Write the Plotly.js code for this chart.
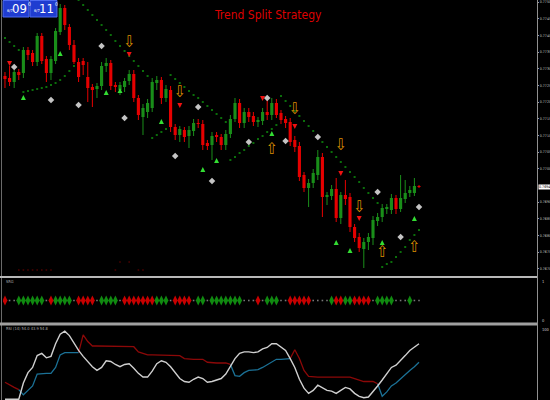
<!DOCTYPE html>
<html><head><meta charset="utf-8">
<script src="https://cdn.plot.ly/plotly-3.0.1.min.js"></script>
<style>html,body{margin:0;padding:0;background:#000;}#chart{width:550px;height:400px;}</style>
</head><body><div id="chart"></div>
<script>
// ---- price candles (one per bar index 0..90) ----
const openP=[.77278,.77272,.77260,.77290,.77287,.77356,.77347,.77320,.77398,.77329,.77287,.77323,.77410,.77482,.77425,.77371,.77320,.77323,.77275,.77245,.77239,.77248,.77308,.77317,.77251,.77236,.77245,.77263,.77284,.77212,.77155,.77170,.77182,.77257,.77266,.77212,.77236,.77125,.77101,.77116,.77098,.77113,.77137,.77134,.77077,.77071,.77101,.77095,.77071,.77104,.77149,.77197,.77137,.77170,.77158,.77140,.77143,.77170,.77161,.77197,.77167,.77149,.77140,.77086,.77068,.76981,.76942,.76957,.76981,.77035,.76915,.76918,.76939,.76852,.76921,.76915,.76825,.76795,.76759,.76780,.76792,.76843,.76855,.76879,.76876,.76912,.76879,.76909,.76927,.76927,.76948];
const highP=[.77290,.77308,.77296,.77299,.77365,.77365,.77356,.77407,.77407,.77338,.77338,.77422,.77494,.77491,.77434,.77386,.77332,.77332,.77320,.77254,.77257,.77320,.77332,.77326,.77260,.77260,.77272,.77296,.77296,.77221,.77194,.77209,.77272,.77278,.77275,.77251,.77248,.77134,.77128,.77125,.77128,.77149,.77149,.77146,.77086,.77110,.77110,.77104,.77116,.77161,.77212,.77209,.77182,.77182,.77170,.77155,.77182,.77206,.77212,.77209,.77176,.77158,.77152,.77098,.77080,.76990,.76969,.76999,.77056,.77047,.76930,.76951,.76972,.76930,.76966,.76927,.76834,.76807,.76792,.76807,.76858,.76867,.76894,.76894,.76924,.76921,.76981,.76966,.76948,.76972,.76951];
const lowP=[.77242,.77248,.77242,.77266,.77272,.77326,.77308,.77308,.77314,.77260,.77266,.77314,.77401,.77416,.77356,.77314,.77260,.77281,.77200,.77185,.77212,.77236,.77290,.77236,.77230,.77221,.77230,.77251,.77200,.77146,.77101,.77152,.77170,.77236,.77194,.77200,.77110,.77086,.77080,.77080,.77062,.77098,.77122,.77056,.77056,.77026,.77080,.77056,.77056,.77092,.77140,.77122,.77122,.77140,.77128,.77125,.77131,.77146,.77146,.77152,.77134,.77122,.77068,.77050,.76963,.76930,.76885,.76942,.76966,.76855,.76891,.76906,.76840,.76834,.76891,.76810,.76780,.76750,.76702,.76756,.76771,.76828,.76840,.76864,.76864,.76864,.76870,.76897,.76915,.76918,.76942];
const closeP=[.77269,.77260,.77290,.77281,.77356,.77341,.77320,.77398,.77323,.77287,.77329,.77413,.77482,.77431,.77371,.77320,.77275,.77311,.77242,.77236,.77248,.77308,.77317,.77248,.77245,.77251,.77263,.77284,.77212,.77161,.77182,.77197,.77260,.77266,.77212,.77239,.77125,.77101,.77119,.77095,.77116,.77137,.77134,.77071,.77068,.77098,.77095,.77071,.77104,.77149,.77197,.77137,.77170,.77155,.77140,.77146,.77170,.77161,.77197,.77161,.77146,.77137,.77080,.77065,.76975,.76942,.76957,.76987,.77035,.76915,.76921,.76939,.76852,.76921,.76909,.76825,.76792,.76762,.76780,.76795,.76846,.76855,.76882,.76885,.76912,.76879,.76912,.76927,.76936,.76948,.76945];

// ---- price axis tick labels ----
const priceTicks=[0.7750,0.7745,0.7740,0.7735,0.7730,0.7725,0.7720,0.7715,0.7710,0.7705,0.7700,0.7690,0.7685,0.7680,0.7675,0.7670];

// ---- trailing stop dots ----
const sarP=[.77392,.77380,.77368,.77356,
 .77230,.77233,.77236,.77239,.77242,.77245,.77251,.77257,.77266,.77278,.77293,.77308,
 .77506,.77491,.77476,.77461,.77446,.77431,.77416,.77401,.77383,.77368,.77353,.77338,.77323,.77308,.77293,.77278,
 .77092,.77101,.77110,.77119,
 .77281,.77269,.77257,.77245,.77233,.77221,.77212,.77200,.77188,.77176,.77164,.77152,.77140,
 .77026,.77035,.77047,.77056,.77068,.77077,.77089,.77098,.77110,.77119,.77131,
 .77218,.77203,.77188,.77173,.77158,.77143,.77128,.77113,.77095,.77080,.77065,.77050,.77035,.77020,.77005,.76990,.76975,.76960,.76942,.76927,.76912,.76897,
 .76705,.76714,.76720,.76735,.76750,.76765,.76786,.76801,.76816];

// ---- signal markers ----
const whiteIdx=[2,10,16,21,26,37,42,45,53,57,61,68,81,86,90];
const whiteP=[.77305,.77206,.77191,.77368,.77152,.77038,.77185,.76963,.77080,.77212,.77083,.77095,.76930,.76795,.76885];
const greenArrIdx=[4,12,22,25,34,43,46,58,72,75,82,89];
const greenArrP=[.77221,.77353,.77236,.77242,.77149,.77005,.77032,.77113,.76786,.76762,.76786,.76858];
const redArrIdx=[1,27,38,56,63,73,77];
const redArrP=[.77308,.77335,.77182,.77203,.77119,.76978,.76843];
const sellIdx=[27,38,63,73,77];
const sellP=[.77377,.77227,.77176,.77068,.76882];
const buyIdx=[58,82,89];
const buyP=[.77056,.76747,.76762];
const faintIdx=[3,4,5,6,7,8,9,10,24,25,27,29,30];
const faintP=[.76696,.76696,.76696,.76696,.76696,.76696,.76696,.76696,.76696,.76720,.76720,.76696,.76696];

// ---- split state per bar: 2 green, 1 red, 0 neutral ----
const splitState=[1,0,0,2,2,2,2,2,2,0,1,2,2,2,2,0,1,1,1,1,0,2,2,2,2,0,1,1,1,1,1,1,1,2,2,2,0,1,1,1,1,0,2,2,0,2,2,2,2,2,2,2,0,0,0,1,0,2,2,2,0,0,1,1,1,1,1,0,0,0,0,2,1,1,2,2,1,1,1,1,0,2,2,2,2,0,0,0,2,0,0];

// ---- oscillator panel ----
const oscMain=[1,1,1,1,23,37,44,60,63,57,59,76,89,93,87,77,67,59,52,45,40,44,53,52,48,45,48,49,43,36,31,31,39,49,53,51,45,37,29,25,24,28,31,29,24,25,27,29,35,45,56,63,65,65,64,65,69,71,76,76,72,67,56,44,28,16,9,13,20,16,13,12,9,13,17,15,9,5,3,4,11,19,27,36,44,47,53,60,67,72,76];
const oscUpper=[24,20,17,14,null,null,null,null,null,null,null,null,null,null,null,null,64,88,79,73,73,73,73,73,73,73,73,73,72,65,63,61,61,61,61,61,61,61,60,56,55,55,55,55,51,50,50,50,50,48,null,null,null,null,null,null,null,null,null,null,null,null,56,68,56,40,32,31,31,31,31,31,31,31,31,31,29,27,25,25,25,22,null,null,null,null,null,null,null,null,null];
const oscLower=[null,null,null,14,7,13,19,35,36,36,36,44,61,64,64,64,64,null,null,null,null,null,null,null,null,null,null,null,null,null,null,null,null,null,null,null,null,null,null,null,null,null,null,null,null,null,null,null,null,48,33,32,37,40,41,41,44,48,52,55,55,55,56,null,null,null,null,null,null,null,null,null,null,null,null,null,null,null,null,null,null,22,5,11,19,23,29,35,40,45,51];

const idx=openP.map((_,i)=>i);
const GREEN='#1a8f1a', RED='#e60000';
const NARROW='DejaVu Sans Condensed, Liberation Sans Narrow, sans-serif';
const traces=[];

function wick(up){
  const x=[],y=[];
  idx.forEach(i=>{ if((closeP[i]>=openP[i])===up){ x.push(i,i,null); y.push(lowP[i],highP[i],null);} });
  return {type:'scatter',mode:'lines',x,y,line:{color:up?GREEN:RED,width:1},hoverinfo:'skip',showlegend:false,xaxis:'x',yaxis:'y'};
}
traces.push(wick(true),wick(false));
traces.push({type:'bar',x:idx,base:idx.map(i=>Math.min(openP[i],closeP[i])),
  y:idx.map(i=>Math.max(Math.abs(closeP[i]-openP[i]),0.00003)),width:0.68,
  marker:{color:idx.map(i=>closeP[i]>=openP[i]?GREEN:RED),line:{width:0}},
  hoverinfo:'skip',showlegend:false,xaxis:'x',yaxis:'y'});
traces.push({type:'scatter',mode:'markers',x:idx,y:sarP,marker:{symbol:'square',size:2,color:'#0b6e0b'},hoverinfo:'skip',showlegend:false});
traces.push({type:'scatter',mode:'markers',x:faintIdx,y:faintP,marker:{symbol:'square',size:1.6,color:'#4a0000'},hoverinfo:'skip',showlegend:false});
traces.push({type:'scatter',mode:'markers',x:whiteIdx,y:whiteP,marker:{symbol:'diamond',size:5,color:'#c4c4c4'},hoverinfo:'skip',showlegend:false});
traces.push({type:'scatter',mode:'markers',x:greenArrIdx,y:greenArrP,marker:{symbol:'arrow-up',size:5,color:'#33dd33'},hoverinfo:'skip',showlegend:false});
traces.push({type:'scatter',mode:'markers',x:redArrIdx,y:redArrP,marker:{symbol:'arrow-down',size:5,color:'#ee1111'},hoverinfo:'skip',showlegend:false});
traces.push({type:'scatter',mode:'text',x:sellIdx,y:sellP,text:sellIdx.map(()=>'⇩'),textfont:{family:NARROW,size:16,color:'#d98e00'},hoverinfo:'skip',showlegend:false});
traces.push({type:'scatter',mode:'text',x:buyIdx,y:buyP,text:buyIdx.map(()=>'⇧'),textfont:{family:NARROW,size:16,color:'#d98e00'},hoverinfo:'skip',showlegend:false});

// split panel
const colS={2:'#108a10',1:'#c80000'};
[2,1].forEach(s=>{
  const xs=idx.filter(i=>splitState[i]===s);
  traces.push({type:'scatter',mode:'markers',x:xs,y:xs.map(()=>1),marker:{symbol:'diamond-tall',size:7,color:colS[s]},hoverinfo:'skip',showlegend:false,xaxis:'x',yaxis:'y2'});
});
const xn=idx.filter(i=>splitState[i]===0);
traces.push({type:'scatter',mode:'markers',x:xn,y:xn.map(()=>1),marker:{symbol:'square',size:1.6,color:'#777'},hoverinfo:'skip',showlegend:false,xaxis:'x',yaxis:'y2'});

// oscillator
traces.push({type:'scatter',mode:'lines',x:idx,y:oscUpper,line:{color:'#8c0808',width:1.3},connectgaps:false,hoverinfo:'skip',showlegend:false,xaxis:'x',yaxis:'y3'});
traces.push({type:'scatter',mode:'lines',x:idx,y:oscLower,line:{color:'#1b7196',width:1.3},connectgaps:false,hoverinfo:'skip',showlegend:false,xaxis:'x',yaxis:'y3'});
traces.push({type:'scatter',mode:'lines',x:idx,y:oscMain,line:{color:'#d0d0d0',width:1.4},hoverinfo:'skip',showlegend:false,xaxis:'x',yaxis:'y3'});

const px=v=>v/550, py=v=>1-v/400;
const lastC=closeP[closeP.length-1];
function small(x,y,t,size,color,anchor){
  return {xref:'paper',yref:'paper',x:px(x),y:py(y),xanchor:anchor||'left',yanchor:'middle',text:t,showarrow:false,
    font:{family:NARROW,size:size,color:color}};
}
const layout={
  width:550,height:400,margin:{l:0,r:0,t:0,b:0},
  paper_bgcolor:'#000',plot_bgcolor:'#000',showlegend:false,
  xaxis:{domain:[px(3),px(537)],range:[-0.43,115.65],showgrid:false,zeroline:false,showticklabels:false,ticks:'',showline:false,fixedrange:true,anchor:'y3'},
  yaxis:{domain:[py(277),1],range:[0.76675,0.77506],side:'right',anchor:'x',showgrid:false,zeroline:false,
    tickmode:'array',tickvals:priceTicks,ticktext:priceTicks.map(v=>v.toFixed(4)),ticks:'outside',ticklen:1,tickcolor:'#999',
    ticklabelstandoff:0,tickfont:{family:NARROW,size:3.6,color:'#c8c8c8'},showline:false},
  yaxis2:{domain:[py(323),py(278)],range:[0,2],anchor:'x',showgrid:false,zeroline:false,showticklabels:false,ticks:''},
  yaxis3:{domain:[0,py(326)],range:[0,100],anchor:'x',showgrid:false,zeroline:false,showticklabels:false,ticks:''},
  shapes:[
    {type:'line',xref:'paper',yref:'paper',x0:px(1.5),x1:px(1.5),y0:0,y1:1,line:{color:'#6a6a6a',width:1}},
    {type:'line',xref:'paper',yref:'paper',x0:px(537.5),x1:px(537.5),y0:0,y1:1,line:{color:'#909090',width:1}},
    {type:'line',xref:'paper',yref:'paper',x0:0,x1:px(537),y0:py(277),y1:py(277),line:{color:'#b8b8b8',width:2}},
    {type:'line',xref:'paper',yref:'paper',x0:0,x1:px(537),y0:py(324),y1:py(324),line:{color:'#a0a0a0',width:3}},
    {type:'rect',xref:'paper',yref:'paper',x0:px(3),x1:px(29),y0:py(17),y1:py(0.5),fillcolor:'#1f3cd0',line:{color:'#4d6af0',width:1}},
    {type:'rect',xref:'paper',yref:'paper',x0:px(30),x1:px(57),y0:py(17),y1:py(0.5),fillcolor:'#1f3cd0',line:{color:'#4d6af0',width:1}}
  ],
  annotations:[
    {xref:'paper',yref:'paper',x:px(268),y:py(15),xanchor:'center',yanchor:'middle',text:'Trend Split Strategy',showarrow:false,
     font:{family:NARROW,size:12,color:'#dd0000'}},
    small(5,10,'6/7',4,'#ffffff'),
    small(19,9,'09',13,'#ffffff','center'),
    small(25.5,4,'0',5,'#ffffff'),
    small(32,10,'6/7',4,'#ffffff'),
    small(46,9,'11',13,'#ffffff','center'),
    small(52.5,4,'0',5,'#ffffff'),
    {xref:'paper',yref:'y',x:px(538),y:lastC,xanchor:'left',yanchor:'middle',text:lastC.toFixed(4),showarrow:false,bgcolor:'#ffffff',borderpad:0,
     font:{family:NARROW,size:3.6,color:'#000'}},
    small(4,281,'SRG',4,'#aaaaaa'),
    small(4,328,'RSI (14) 54.0 43.9 54.8',4,'#aaaaaa'),
    small(540,281,'1',4,'#cccccc'),
    small(540,320,'0',4,'#cccccc'),
    small(540,329,'100',4,'#cccccc')
  ]
};
Plotly.newPlot('chart',traces,layout,{staticPlot:true,displayModeBar:false});
</script>
</body></html>
